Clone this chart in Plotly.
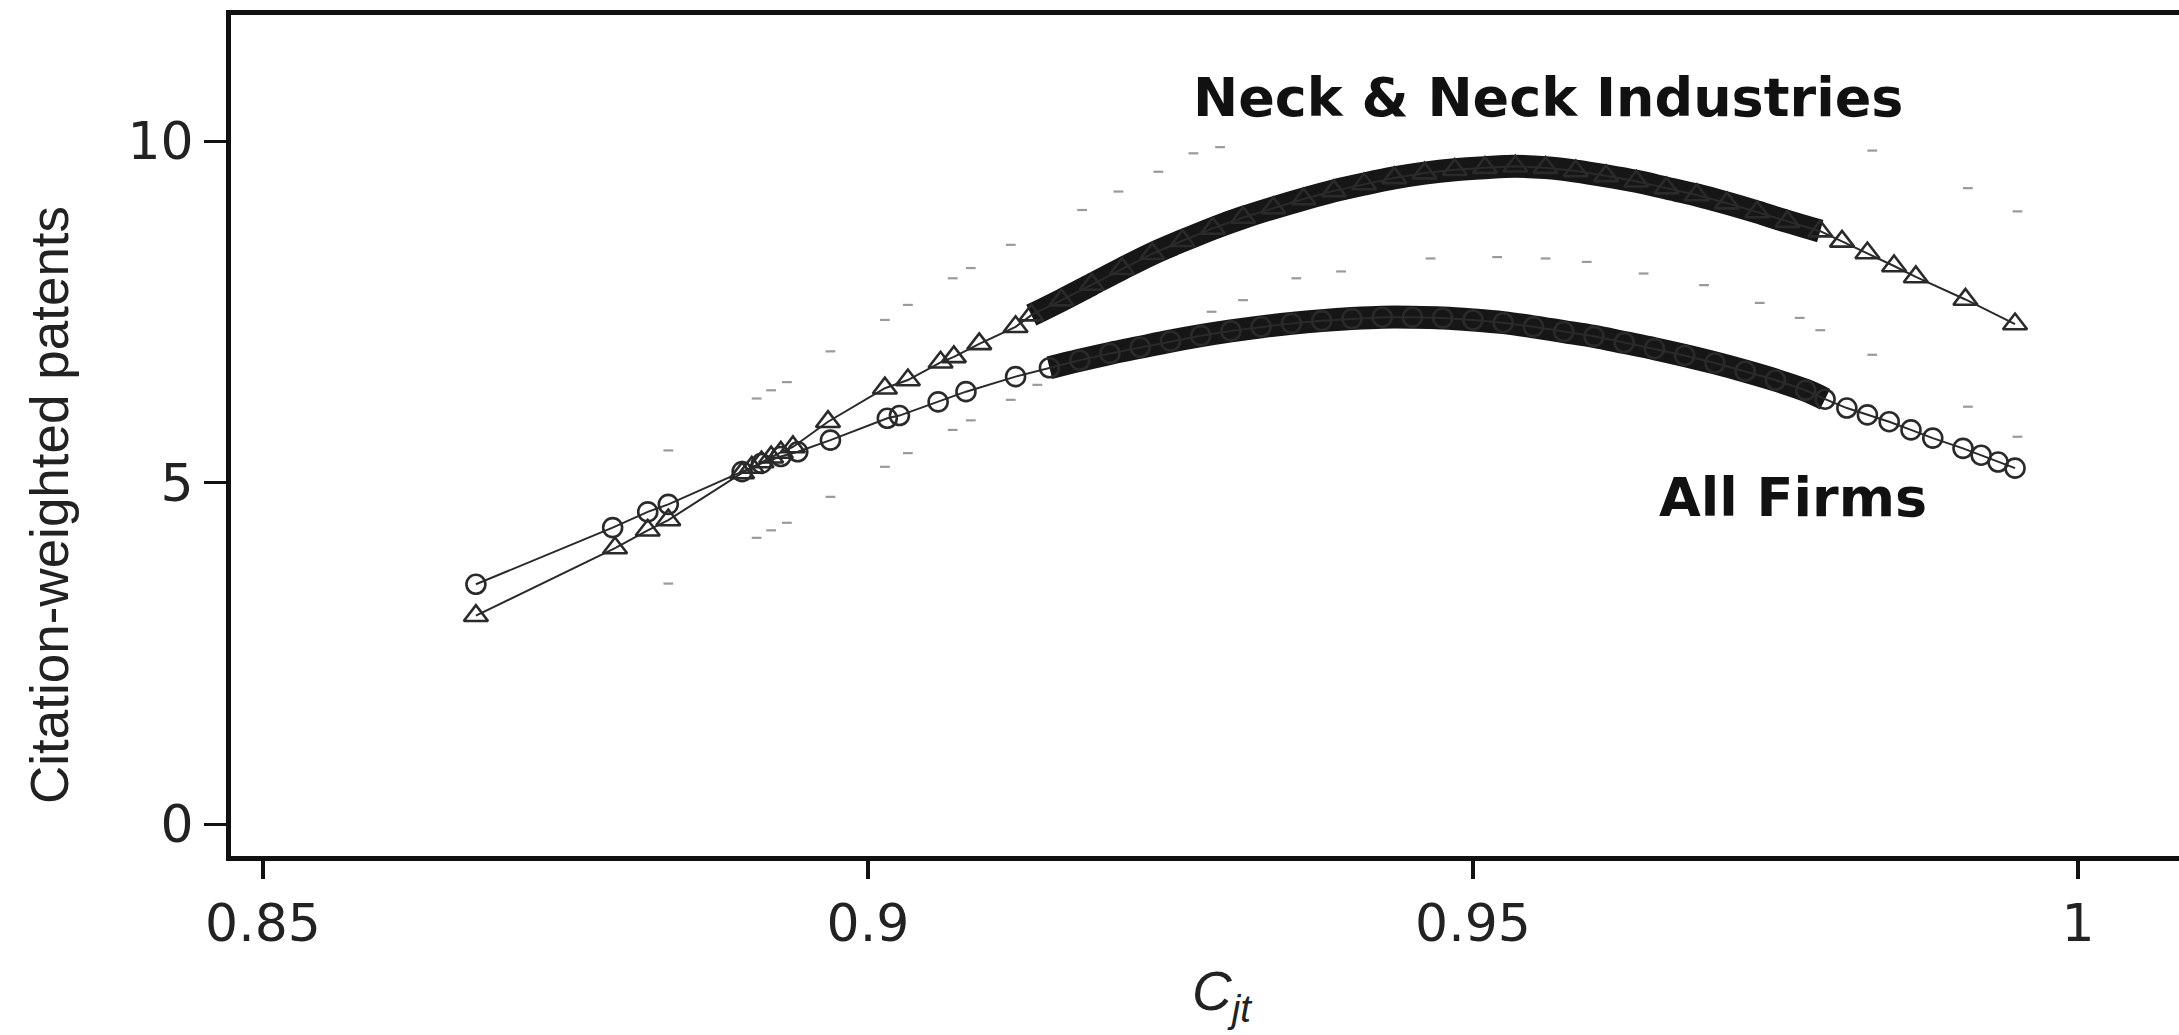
import plotly.graph_objects as go

# ---------------- data ----------------
neck_x = [0.8676, 0.8791, 0.8818, 0.8835, 0.8896, 0.8904, 0.8912, 0.8920, 0.8928, 0.8938,
          0.8967, 0.9014, 0.9033, 0.9060, 0.9071, 0.9092, 0.9122,
          0.9135, 0.9160, 0.9185, 0.9210, 0.9235, 0.9260, 0.9285, 0.9310, 0.9335, 0.9360,
          0.9385, 0.9410, 0.9435, 0.9460, 0.9485, 0.9510, 0.9535, 0.9560, 0.9585, 0.9610,
          0.9635, 0.9660, 0.9685, 0.9710, 0.9735, 0.9760, 0.9787,
          0.9805, 0.9826, 0.9848, 0.9866, 0.9907, 0.9948]
neck_y = [3.05, 4.04, 4.30, 4.45, 5.14, 5.22, 5.30, 5.37, 5.44, 5.52,
          5.89, 6.38, 6.50, 6.76, 6.84, 7.03, 7.28,
          7.45, 7.67, 7.90, 8.13, 8.35, 8.54, 8.72, 8.88, 9.02, 9.15,
          9.27, 9.37, 9.46, 9.53, 9.58, 9.61, 9.63, 9.61, 9.56, 9.49,
          9.41, 9.31, 9.21, 9.09, 8.96, 8.82, 8.68,
          8.53, 8.36, 8.17, 8.01, 7.68, 7.32]

all_x = [0.8676, 0.8789, 0.8818, 0.8835, 0.8896, 0.8912, 0.8928, 0.8942, 0.8969, 0.9016,
         0.9026, 0.9058, 0.9081, 0.9122,
         0.9150, 0.9175, 0.9200, 0.9225, 0.9250, 0.9275, 0.9300, 0.9325, 0.9350, 0.9375,
         0.9400, 0.9425, 0.9450, 0.9475, 0.9500, 0.9525, 0.9550, 0.9575, 0.9600, 0.9625,
         0.9650, 0.9675, 0.9700, 0.9725, 0.9750, 0.9775, 0.9791,
         0.9809, 0.9826, 0.9844, 0.9862, 0.9880, 0.9905, 0.9920, 0.9934, 0.9948]
all_y = [3.51, 4.34, 4.57, 4.68, 5.16, 5.28, 5.38, 5.45, 5.62, 5.94,
         5.98, 6.18, 6.33, 6.55,
         6.68, 6.79, 6.89, 6.98, 7.07, 7.15, 7.22, 7.28, 7.33, 7.37,
         7.40, 7.42, 7.42, 7.41, 7.38, 7.34, 7.28, 7.21, 7.14, 7.05,
         6.96, 6.86, 6.75, 6.63, 6.50, 6.35, 6.22,
         6.09, 5.99, 5.89, 5.77, 5.65, 5.50, 5.40, 5.30, 5.21]

# confidence band marks (Neck & Neck), visible parts only
ci_up_x = [0.8835, 0.8908, 0.8920, 0.8933, 0.8969, 0.9014, 0.9033, 0.9070, 0.9085, 0.9118,
           0.9177, 0.9207, 0.9240, 0.9269, 0.9291, 0.9830, 0.9909, 0.9950]
ci_up_y = [5.47, 6.23, 6.35, 6.47, 6.92, 7.38, 7.60, 7.99, 8.14, 8.48,
           8.99, 9.26, 9.55, 9.82, 9.91, 9.86, 9.31, 8.97]
ci_lo_x = [0.8835, 0.8908, 0.8920, 0.8933, 0.8969, 0.9014, 0.9033, 0.9070, 0.9085, 0.9118,
           0.9140, 0.9284, 0.9310, 0.9354, 0.9391, 0.9465, 0.9520, 0.9560, 0.9594, 0.9641,
           0.9691, 0.9737, 0.9770, 0.9787, 0.9830, 0.9909, 0.9950]
ci_lo_y = [3.52, 4.19, 4.30, 4.41, 4.79, 5.23, 5.43, 5.77, 5.91, 6.21,
           6.43, 7.50, 7.67, 7.99, 8.09, 8.28, 8.30, 8.28, 8.23, 8.06,
           7.89, 7.63, 7.41, 7.23, 6.87, 6.11, 5.67]

x_ticks = [0.85, 0.9, 0.95, 1]
x_tick_text = ["0.85", "0.9", "0.95", "1"]
y_ticks = [0, 5, 10]
y_tick_text = ["0", "5", "10"]

# ---------------- styling ----------------
W, H = 2179, 1035
L, R, T, B = 231, 0, 15, 179
INK = "#161616"
NECK_DENSE = (0.9135, 0.9787)
ALL_DENSE = (0.9150, 0.9791)


def subset(xs, ys, lo, hi):
    pts = [(a, b) for a, b in zip(xs, ys) if lo <= a <= hi]
    return [p[0] for p in pts], [p[1] for p in pts]


fig = go.Figure()

# CI dashes
for cx, cy in [(ci_up_x, ci_up_y), (ci_lo_x, ci_lo_y)]:
    fig.add_trace(go.Scatter(x=cx, y=cy, mode="markers",
                             marker=dict(symbol="line-ew", size=7,
                                         line=dict(width=2.2, color="#9a9a9a")),
                             showlegend=False, hoverinfo="skip"))

# dense bands
nbx, nby = subset(neck_x, neck_y, *NECK_DENSE)
abx, aby = subset(all_x, all_y, *ALL_DENSE)
for bx, by in [(nbx, nby), (abx, aby)]:
    fig.add_trace(go.Scatter(x=bx, y=by, mode="lines",
                             line=dict(width=23, color=INK, shape="spline"),
                             showlegend=False, hoverinfo="skip"))

# main series
fig.add_trace(go.Scatter(x=neck_x, y=neck_y, mode="lines+markers", name="Neck & Neck Industries",
                         line=dict(width=2, color="#2a2a2a"),
                         marker=dict(symbol="triangle-up-open", size=21,
                                     line=dict(width=2.6, color=INK)),
                         showlegend=False))
fig.add_trace(go.Scatter(x=all_x, y=all_y, mode="lines+markers", name="All Firms",
                         line=dict(width=2, color="#2a2a2a"),
                         marker=dict(symbol="circle-open", size=19,
                                     line=dict(width=2.6, color=INK)),
                         showlegend=False))

pw = W - L - R
ph = H - T - B


def px_x(p):
    return (p - L) / pw


def px_y(p):
    return (H - B - p) / ph


fig.update_layout(
    width=W, height=H,
    margin=dict(l=L, r=R, t=T, b=B, pad=0),
    paper_bgcolor="white", plot_bgcolor="white",
    showlegend=False,
    xaxis=dict(range=[0.84736, 1.00835], tickvals=x_ticks, ticktext=x_tick_text,
               showgrid=False, zeroline=False, showline=True, linewidth=5, linecolor="#111111",
               mirror=True, ticks="outside", ticklen=18, tickwidth=4, tickcolor="#111111",
               tickfont=dict(family="DejaVu Sans", size=52, color="#222222")),
    yaxis=dict(range=[-0.4685, 11.845], tickvals=y_ticks, ticktext=y_tick_text,
               showgrid=False, zeroline=False, showline=True, linewidth=5, linecolor="#111111",
               ticks="outside", ticklen=22, tickwidth=3, tickcolor="#111111",
               tickfont=dict(family="DejaVu Sans", size=52, color="#222222")),
    annotations=[
        dict(text="Citation-weighted patents", textangle=-90, xref="paper", yref="paper",
             x=px_x(50), y=px_y(505), xanchor="center", yanchor="middle", showarrow=False,
             font=dict(family="Liberation Sans", size=53, color="#222222")),
        dict(text="<i>C<sub>jt</sub></i>", xref="paper", yref="paper",
             x=px_x(1222), y=px_y(958), xanchor="center", yanchor="top", showarrow=False,
             font=dict(family="Liberation Sans", size=55, color="#222222")),
        dict(text="<b>Neck & Neck Industries</b>", xref="paper", yref="paper",
             x=px_x(1548), y=px_y(97), xanchor="center", yanchor="middle", showarrow=False,
             font=dict(family="DejaVu Sans", size=54, color="#111111")),
        dict(text="<b>All Firms</b>", xref="paper", yref="paper",
             x=px_x(1793), y=px_y(497), xanchor="center", yanchor="middle", showarrow=False,
             font=dict(family="DejaVu Sans", size=54, color="#111111")),
    ],
)

fig.write_html("out.html")
